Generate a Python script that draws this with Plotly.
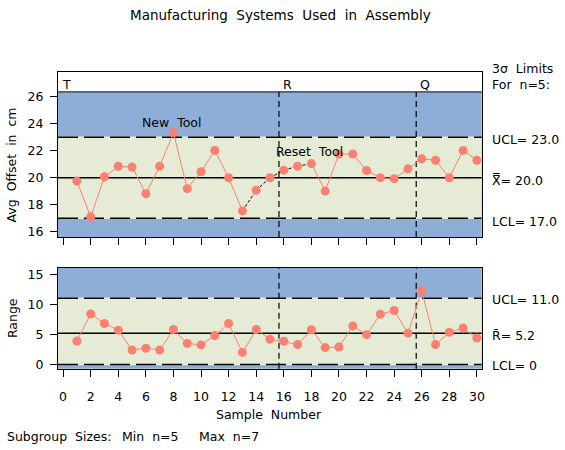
import plotly.graph_objects as go

# ---- data ----
samples = list(range(1, 31))
avg_offset = [19.75, 17.1, 20.07, 20.85, 20.8, 18.82, 20.85, 23.35, 19.19, 20.44,
              22.03, 20.0, 17.54, 19.07, 20.0, 20.56, 20.85, 21.05, 19.01, 21.76,
              21.76, 20.54, 20.0, 19.93, 20.66, 21.4, 21.3, 20.0, 22.03, 21.3]
ranges = [3.9, 8.4, 6.8, 5.7, 2.4, 2.7, 2.4, 5.8, 3.5, 3.25,
          4.8, 6.8, 2.0, 5.8, 4.2, 3.85, 3.3, 5.77, 2.8, 2.9,
          6.4, 4.95, 8.35, 8.96, 5.2, 12.25, 3.3, 5.34, 6.05, 4.4]
dashed_links = [13, 14, 15, 16, 17]   # links starting at these samples are drawn dashed black
phase_bounds = [15.65, 25.6]
phase_labels = ["T", "R", "Q"]
xbar_ucl, xbar_cl, xbar_lcl = 23.0, 20.0, 17.0
r_ucl, r_cl, r_lcl = 11.0, 5.2, 0.0
x_ticks = list(range(0, 31, 2))
top_y_ticks = [16, 18, 20, 22, 24, 26]
bot_y_ticks = [0, 5, 10, 15]

W, H = 565, 450
BLUE = "#8EAED8"
BEIGE = "#E6EBD5"
GAPC = "#E2E8DA"
SALMON = "#FA8072"
FONT = "DejaVu Sans"
FS = 12.5

def px(x):
    return x / W

def py(y):
    return 1 - y / H

XR = [-0.37, 30.35]
YR1 = [15.61, 27.82]
BAND1_TOP = 26.37
YR2 = [-0.71, 16.1]

fig = go.Figure()

# segments for top chart
rx, ry, bx, by = [], [], [], []
for i in range(len(samples) - 1):
    seg_x = [samples[i], samples[i + 1], None]
    seg_y = [avg_offset[i], avg_offset[i + 1], None]
    if samples[i] in dashed_links:
        bx += seg_x; by += seg_y
    else:
        rx += seg_x; ry += seg_y

fig.add_trace(go.Scatter(x=rx, y=ry, mode="lines", line=dict(color=SALMON, width=1),
                         xaxis="x", yaxis="y", showlegend=False, hoverinfo="skip"))
fig.add_trace(go.Scatter(x=bx, y=by, mode="lines", line=dict(color="black", width=1, dash="3px,2px"),
                         xaxis="x", yaxis="y", showlegend=False, hoverinfo="skip"))
fig.add_trace(go.Scatter(x=samples, y=avg_offset, mode="markers",
                         marker=dict(color=SALMON, size=9, line=dict(width=0)),
                         xaxis="x", yaxis="y", showlegend=False))

fig.add_trace(go.Scatter(x=samples, y=ranges, mode="lines+markers",
                         line=dict(color=SALMON, width=1),
                         marker=dict(color=SALMON, size=9, line=dict(width=0)),
                         xaxis="x2", yaxis="y2", showlegend=False))

shapes = []
# top chart backgrounds
shapes.append(dict(type="rect", xref="x domain", yref="y", x0=0, x1=1, y0=YR1[0], y1=BAND1_TOP,
                   fillcolor=BLUE, line=dict(width=0), layer="below"))
shapes.append(dict(type="rect", xref="x domain", yref="y", x0=0, x1=1, y0=xbar_lcl, y1=xbar_ucl,
                   fillcolor=BEIGE, line=dict(width=0), layer="below"))
shapes.append(dict(type="line", xref="x domain", yref="y", x0=0, x1=1, y0=BAND1_TOP, y1=BAND1_TOP,
                   line=dict(color="black", width=1)))
for lim in (xbar_ucl, xbar_lcl):
    shapes.append(dict(type="line", xref="x domain", yref="y", x0=0, x1=1, y0=lim, y1=lim,
                       line=dict(color=GAPC, width=1.5), layer="below"))
    shapes.append(dict(type="line", xref="x domain", yref="y", x0=0, x1=1, y0=lim, y1=lim,
                       line=dict(color="black", width=1.5, dash="20px,6px"), layer="below"))
shapes.append(dict(type="line", xref="x domain", yref="y", x0=0, x1=1, y0=xbar_cl, y1=xbar_cl,
                   line=dict(color="black", width=1.5), layer="below"))
for b in phase_bounds:
    shapes.append(dict(type="line", xref="x", yref="y", x0=b, x1=b, y0=YR1[0], y1=BAND1_TOP,
                       line=dict(color="black", width=1.2, dash="6px,4px"), layer="below"))

# bottom chart backgrounds
shapes.append(dict(type="rect", xref="x2 domain", yref="y2 domain", x0=0, x1=1, y0=0, y1=1,
                   fillcolor=BLUE, line=dict(width=0), layer="below"))
shapes.append(dict(type="rect", xref="x2 domain", yref="y2", x0=0, x1=1, y0=r_lcl, y1=r_ucl,
                   fillcolor=BEIGE, line=dict(width=0), layer="below"))
for lim in (r_ucl, r_lcl):
    shapes.append(dict(type="line", xref="x2 domain", yref="y2", x0=0, x1=1, y0=lim, y1=lim,
                       line=dict(color=GAPC, width=1.5), layer="below"))
    shapes.append(dict(type="line", xref="x2 domain", yref="y2", x0=0, x1=1, y0=lim, y1=lim,
                       line=dict(color="black", width=1.5, dash="20px,6px"), layer="below"))
shapes.append(dict(type="line", xref="x2 domain", yref="y2", x0=0, x1=1, y0=r_cl, y1=r_cl,
                   line=dict(color="black", width=1.5), layer="below"))
for b in phase_bounds:
    shapes.append(dict(type="line", xref="x2", yref="y2 domain", x0=b, x1=b, y0=0, y1=1,
                       line=dict(color="black", width=1.2, dash="6px,4px"), layer="below"))

ann = []

def text(x, y, s, xanchor="left", size=FS, angle=0, xref="paper", yref="paper"):
    ann.append(dict(x=x, y=y, xref=xref, yref=yref, text=s, showarrow=False,
                    xanchor=xanchor, yanchor="middle", textangle=angle,
                    font=dict(family=FONT, size=size, color="black")))

text(px(282), py(14), "Manufacturing  Systems  Used  in  Assembly", xanchor="center", size=13.5)
# phase labels
phase_label_x = [XR[0]] + phase_bounds
for lx, lab in zip(phase_label_x, phase_labels):
    ann.append(dict(x=lx, y=py(84), xref="x", yref="paper", text=lab, showarrow=False,
                    xanchor="left", yanchor="middle", xshift=2,
                    font=dict(family=FONT, size=FS, color="black")))
text(px(173), py(122.5), "New  Tool", xanchor="center")
text(px(311.5), py(152), "Reset  Tool", xanchor="center")

# right-side labels
text(px(493), py(68), "3σ  Limits")
text(px(493), py(84), "For  n=5:")
text(px(493), py(140), "UCL= %.1f" % xbar_ucl)
text(px(493), py(181), "X̿= %.1f" % xbar_cl)
text(px(493), py(222), "LCL= %.1f" % xbar_lcl)
text(px(493), py(301), "UCL= %.1f" % r_ucl)
text(px(493), py(337), "R̄= %.1f" % r_cl)
text(px(493), py(368), "LCL= %g" % r_lcl)

# axis titles
text(px(12), py(165), "Avg  Offset  in  cm", xanchor="center", angle=-90)
text(px(12), py(320), "Range", xanchor="center", angle=-90)
text(px(270), py(417), "Sample  Number", xanchor="center")
text(px(5), py(439), "Subgroup  Sizes:")
text(px(121), py(439), "Min  n=5")
text(px(198), py(439), "Max  n=7")

axis_common = dict(showgrid=False, zeroline=False, showline=True, linecolor="black", linewidth=1,
                   mirror=True, ticks="outside", tickcolor="black", ticklen=7, tickwidth=1,
                   tickfont=dict(family=FONT, size=FS, color="black"))

fig.update_layout(
    width=W, height=H,
    margin=dict(l=0, r=0, t=0, b=0),
    paper_bgcolor="white", plot_bgcolor="white",
    font=dict(family=FONT, size=FS, color="black"),
    shapes=shapes, annotations=ann,
    xaxis=dict(domain=[px(58.3), px(484.3)], range=XR, anchor="y", tickvals=x_ticks,
               showticklabels=False, **axis_common),
    yaxis=dict(domain=[py(238), py(72)], range=YR1, anchor="x", tickvals=top_y_ticks,
               ticklabelstandoff=4, **axis_common),
    xaxis2=dict(domain=[px(58.3), px(484.3)], range=XR, anchor="y2", tickvals=x_ticks,
                ticklabelstandoff=9, **axis_common),
    yaxis2=dict(domain=[py(371), py(269)], range=YR2, anchor="x2", tickvals=bot_y_ticks,
                ticklabelstandoff=4, **axis_common),
)

fig.write_html("out.html", config={"displayModeBar": False},
               post_script="document.body.style.margin='0';document.body.style.padding='0';")
